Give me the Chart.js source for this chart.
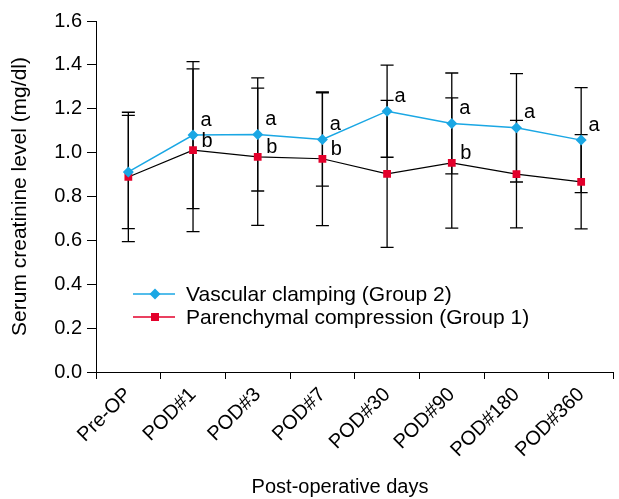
<!DOCTYPE html>
<html>
<head>
<meta charset="utf-8">
<title>Serum creatinine level</title>
<script src="https://cdn.jsdelivr.net/npm/chart.js@4.4.1/dist/chart.umd.min.js"></script>
<style>
    html, body { margin: 0; padding: 0; background: #fff; }
    .chart-box { width: 619px; height: 499px; position: relative; }
</style>
</head>
<body>
<div class="chart-box"><canvas id="creatinineChart"></canvas></div>
<script>
// data
const categories = ['Pre-OP', 'POD#1', 'POD#3', 'POD#7', 'POD#30', 'POD#90', 'POD#180', 'POD#360'];
const vascularMean = [0.912, 1.080, 1.083, 1.060, 1.189, 1.133, 1.113, 1.057];
const vascularSD = [0.258, 0.335, 0.258, 0.213, 0.210, 0.230, 0.247, 0.239];
const parenchymalMean = [0.889, 1.011, 0.981, 0.972, 0.903, 0.953, 0.902, 0.867];
const parenchymalSD = [0.295, 0.371, 0.313, 0.305, 0.335, 0.297, 0.245, 0.215];
const vascularMarks = ['', 'a', 'a', 'a', 'a', 'a', 'a', 'a'];
const parenchymalMarks = ['', 'b', 'b', 'b', '', 'b', '', ''];
const yTicks = [0, 0.2, 0.4, 0.6, 0.8, 1.0, 1.2, 1.4, 1.6];

const FONT = '"Liberation Sans", Arial, sans-serif';
const BLUE = '#1aa7e4';
const RED = '#e3002b';

// error bars (drawn under the markers)
const errorBarPlugin = {
    id: 'errorBars',
    beforeDatasetsDraw(chart) {
        const ctx = chart.ctx;
        const y = chart.scales.y;
        const sets = [[0, vascularMean, vascularSD], [1, parenchymalMean, parenchymalSD]];
        ctx.save();
        ctx.strokeStyle = '#000';
        ctx.lineWidth = 1.3;
        sets.forEach(([idx, mean, sd]) => {
            const meta = chart.getDatasetMeta(idx);
            meta.data.forEach((pt, i) => {
                const top = y.getPixelForValue(mean[i] + sd[i]);
                const bot = y.getPixelForValue(mean[i] - sd[i]);
                ctx.beginPath();
                ctx.moveTo(pt.x, top);
                ctx.lineTo(pt.x, bot);
                ctx.moveTo(pt.x - 6.5, top);
                ctx.lineTo(pt.x + 6.5, top);
                ctx.moveTo(pt.x - 6.5, bot);
                ctx.lineTo(pt.x + 6.5, bot);
                ctx.stroke();
            });
        });
        ctx.restore();
    }
};

// significance letters + legend + x title
const extrasPlugin = {
    id: 'extras',
    afterDatasetsDraw(chart) {
        const ctx = chart.ctx;
        ctx.save();
        ctx.fillStyle = '#000';
        ctx.font = '20px ' + FONT;
        ctx.textAlign = 'center';
        ctx.textBaseline = 'middle';
        chart.getDatasetMeta(0).data.forEach((pt, i) => {
            if (vascularMarks[i]) ctx.fillText(vascularMarks[i], pt.x + 13, pt.y - 15);
        });
        chart.getDatasetMeta(1).data.forEach((pt, i) => {
            if (parenchymalMarks[i]) ctx.fillText(parenchymalMarks[i], pt.x + 14, pt.y - 9);
        });

        // legend
        ctx.font = '21px ' + FONT;
        const rows = [
            { label: chart.data.datasets[0].label, color: BLUE, style: 'diamond', y: 294 },
            { label: chart.data.datasets[1].label, color: RED, style: 'square', y: 317 }
        ];
        rows.forEach(r => {
            ctx.strokeStyle = r.color;
            ctx.fillStyle = r.color;
            ctx.lineWidth = 1.5;
            ctx.beginPath();
            ctx.moveTo(133, r.y);
            ctx.lineTo(175, r.y);
            ctx.stroke();
            ctx.beginPath();
            if (r.style === 'diamond') {
                ctx.moveTo(155, r.y - 5.5);
                ctx.lineTo(160.5, r.y);
                ctx.lineTo(155, r.y + 5.5);
                ctx.lineTo(149.5, r.y);
                ctx.closePath();
            } else {
                ctx.rect(151, r.y - 4, 8, 8);
            }
            ctx.fill();
            ctx.fillStyle = '#000';
            ctx.textAlign = 'left';
            ctx.fillText(r.label, 186, r.y + 1);
        });

        // x axis title
        ctx.font = '20px ' + FONT;
        ctx.textAlign = 'center';
        ctx.fillText('Post-operative days', 340, 487);
        ctx.restore();
    }
};

function initCreatinineChart() {
    const ctx = document.getElementById('creatinineChart');
    if (!ctx) return;

    new Chart(ctx, {
        type: 'line',
        data: {
            labels: categories,
            datasets: [{
                label: 'Vascular clamping (Group 2)',
                data: vascularMean,
                borderColor: BLUE,
                backgroundColor: BLUE,
                borderWidth: 1.5,
                pointStyle: 'rectRot',
                pointRadius: 5.5,
                pointBorderWidth: 0,
                tension: 0
            }, {
                label: 'Parenchymal compression (Group 1)',
                data: parenchymalMean,
                borderColor: '#000',
                backgroundColor: RED,
                pointBackgroundColor: RED,
                pointBorderColor: RED,
                borderWidth: 1.2,
                pointStyle: 'rect',
                pointRadius: 5.5,
                pointBorderWidth: 0,
                tension: 0
            }]
        },
        options: {
            responsive: true,
            maintainAspectRatio: false,
            animation: false,
            layout: { padding: { top: 21, right: 0, left: 0, bottom: 0 } },
            plugins: {
                legend: { display: false },
                tooltip: { enabled: false }
            },
            scales: {
                x: {
                    offset: true,
                    grid: {
                        offset: true,
                        drawOnChartArea: false,
                        drawTicks: true,
                        tickLength: 7,
                        color: '#000'
                    },
                    border: { color: '#000', width: 1 },
                    ticks: {
                        color: '#000',
                        font: { family: FONT, size: 20 },
                        minRotation: 45,
                        maxRotation: 45,
                        padding: 4
                    },
                    afterFit(scale) { scale.height = 127; }
                },
                y: {
                    min: 0,
                    max: 1.6,
                    afterBuildTicks(scale) {
                        scale.ticks = yTicks.map(v => ({ value: v }));
                    },
                    grid: {
                        drawOnChartArea: false,
                        drawTicks: true,
                        tickLength: 9,
                        color: '#000'
                    },
                    border: { color: '#000', width: 1 },
                    ticks: {
                        color: '#000',
                        font: { family: FONT, size: 20 },
                        padding: 5,
                        callback: v => Number(v).toFixed(1)
                    },
                    title: {
                        display: true,
                        text: 'Serum creatinine level (mg/dl)',
                        color: '#000',
                        font: { family: FONT, size: 21 },
                        padding: { top: 8, bottom: 0 }
                    },
                    afterFit(scale) { scale.width = 96; }
                }
            }
        },
        plugins: [errorBarPlugin, extrasPlugin]
    });
}

document.addEventListener('DOMContentLoaded', initCreatinineChart);
</script>
</body>
</html>
